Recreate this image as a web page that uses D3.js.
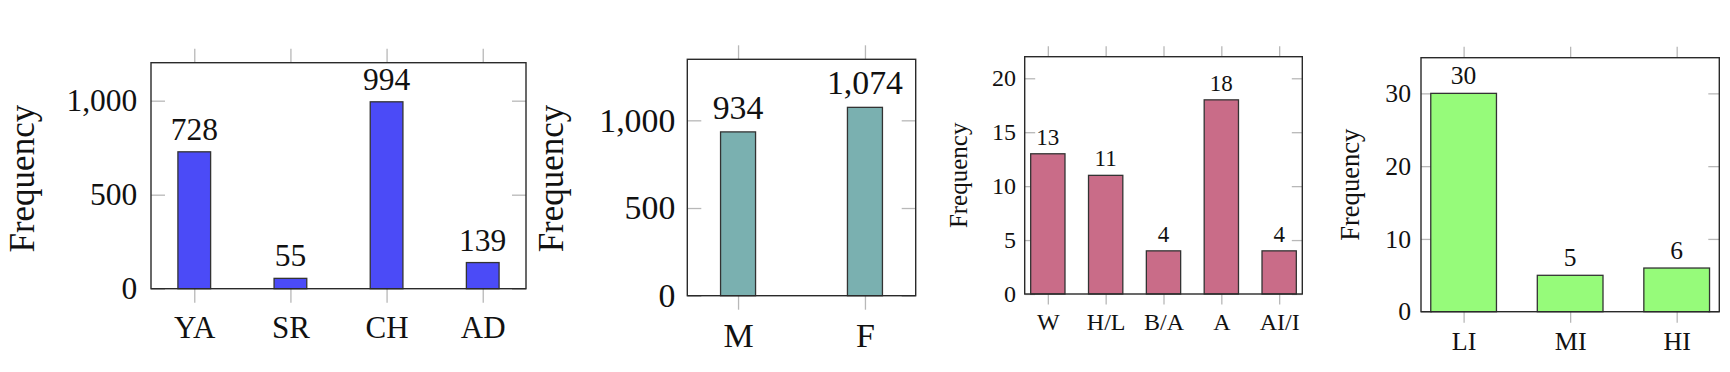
<!DOCTYPE html>
<html>
<head>
<meta charset="utf-8">
<script src="https://cdn.jsdelivr.net/npm/d3@7"></script>
<style>
  body { margin: 0; background: #fff; }
  text { font-family: "Liberation Serif", "Times New Roman", serif; fill: #111; }
</style>
</head>
<body>
<div id="chart"></div>
<script>
// age groups
const ageCats = ["YA", "SR", "CH", "AD"]
const ageCounts = [728, 55, 994, 139]
const ageTicks = [0, 500, 1000]

// sex
const sexCats = ["M", "F"]
const sexCounts = [934, 1074]
const sexTicks = [0, 500, 1000]

// race / ethnicity
const raceCats = ["W", "H/L", "B/A", "A", "AI/I"]
const raceCounts = [13, 11, 4, 18, 4]
const raceTicks = [0, 5, 10, 15, 20]

// income
const incomeCats = ["LI", "MI", "HI"]
const incomeCounts = [30, 5, 6]
const incomeTicks = [0, 10, 20, 30]

const svgWidth = 1730
const svgHeight = 372

const svg = d3.select("#chart").append("svg")
    .attr("width", svgWidth)
    .attr("height", svgHeight)

const fmt = d3.format(",")

function drawPanel(p) {
    const g = svg.append("g")

    const x = d3.scalePoint()
        .domain(p.cats)
        .range([p.left, p.right])
        .padding(p.pad)

    const y = d3.scaleLinear()
        .domain([0, p.ymax])
        .range([p.bottom, p.top])

    // left ticks + labels
    const left = g.append("g")
        .attr("transform", `translate(${p.left},0)`)
        .call(d3.axisLeft(y).tickValues(p.ticks).tickSize(-p.tick).tickPadding(p.ylabPad).tickFormat(fmt))
    left.selectAll("text").style("font-size", p.tickFont + "px").attr("fill", "#111")

    // right ticks
    const right = g.append("g")
        .attr("transform", `translate(${p.right},0)`)
        .call(d3.axisRight(y).tickValues(p.ticks).tickSize(-p.tick).tickFormat(""))

    // top ticks (outside)
    const top = g.append("g")
        .attr("transform", `translate(0,${p.top})`)
        .call(d3.axisTop(x).tickSize(p.tick).tickFormat(""))

    // bottom ticks + category labels
    const bottom = g.append("g")
        .attr("transform", `translate(0,${p.bottom})`)
        .call(d3.axisBottom(x).tickSize(p.tick))
    bottom.selectAll("text")
        .attr("y", p.xlabY)
        .attr("dy", 0)
        .attr("fill", "#111")
        .style("font-size", p.xFont + "px")

    g.selectAll(".domain").remove()
    g.selectAll(".tick line")
        .attr("stroke", "#b8b8b8")
        .attr("stroke-width", 1.3)

    // bars
    g.selectAll("rect.bar")
        .data(p.values)
        .enter()
        .append("rect")
        .attr("class", "bar")
        .attr("x", (d, i) => x(p.cats[i]) - p.barW / 2)
        .attr("y", d => y(d))
        .attr("width", p.barW)
        .attr("height", d => y(0) - y(d))
        .attr("fill", p.color)
        .attr("stroke", "#333")
        .attr("stroke-width", 1.3)

    // value labels
    g.selectAll("text.val")
        .data(p.values)
        .enter()
        .append("text")
        .attr("class", "val")
        .attr("x", (d, i) => x(p.cats[i]))
        .attr("y", d => y(d) - p.valGap)
        .attr("text-anchor", "middle")
        .style("font-size", p.valFont + "px")
        .text(d => fmt(d))

    // frame
    g.append("rect")
        .attr("x", p.left)
        .attr("y", p.top)
        .attr("width", p.right - p.left)
        .attr("height", p.bottom - p.top)
        .attr("fill", "none")
        .attr("stroke", "#2a2a2a")
        .attr("stroke-width", 1.4)

    // y title
    g.append("text")
        .attr("transform", `translate(${p.titleX},${(p.top + p.bottom) / 2 + p.titleShift}) rotate(-90)`)
        .attr("text-anchor", "middle")
        .style("font-size", p.titleFont + "px")
        .text("Frequency")
}

drawPanel({
    cats: ageCats, values: ageCounts, ticks: ageTicks, ymax: 1202, color: "#4b4bf7",
    left: 151, right: 526, top: 62.7, bottom: 288.7, pad: 0.45, barW: 32.7, tick: 14,
    tickFont: 31.5, valFont: 31.5, xFont: 31, ylabPad: 13.7, xlabY: 49, valGap: 12,
    titleX: 34, titleFont: 35, titleShift: 3
})

drawPanel({
    cats: sexCats, values: sexCounts, ticks: sexTicks, ymax: 1348, color: "#7ab0b0",
    left: 687.3, right: 915.7, top: 59.3, bottom: 295.7, pad: 0.4, barW: 35, tick: 14,
    tickFont: 33.8, valFont: 33.8, xFont: 34, ylabPad: 12, xlabY: 51, valGap: 13,
    titleX: 563, titleFont: 35, titleShift: 1
})

drawPanel({
    cats: raceCats, values: raceCounts, ticks: raceTicks, ymax: 22, color: "#c96c88",
    left: 1024.7, right: 1302.3, top: 56.7, bottom: 294, pad: 0.4, barW: 34.3, tick: 10.5,
    tickFont: 24, valFont: 23, xFont: 24, ylabPad: 8.7, xlabY: 36, valGap: 9,
    titleX: 967, titleFont: 25, titleShift: 0
})

drawPanel({
    cats: incomeCats, values: incomeCounts, ticks: incomeTicks, ymax: 34.9, color: "#96fb7a",
    left: 1421, right: 1719.3, top: 57.7, bottom: 311.7, pad: 0.4, barW: 65.7, tick: 11,
    tickFont: 25.7, valFont: 25.5, xFont: 26, ylabPad: 10, xlabY: 38.3, valGap: 9.3,
    titleX: 1359, titleFont: 26.6, titleShift: 0
})
</script>
</body>
</html>
